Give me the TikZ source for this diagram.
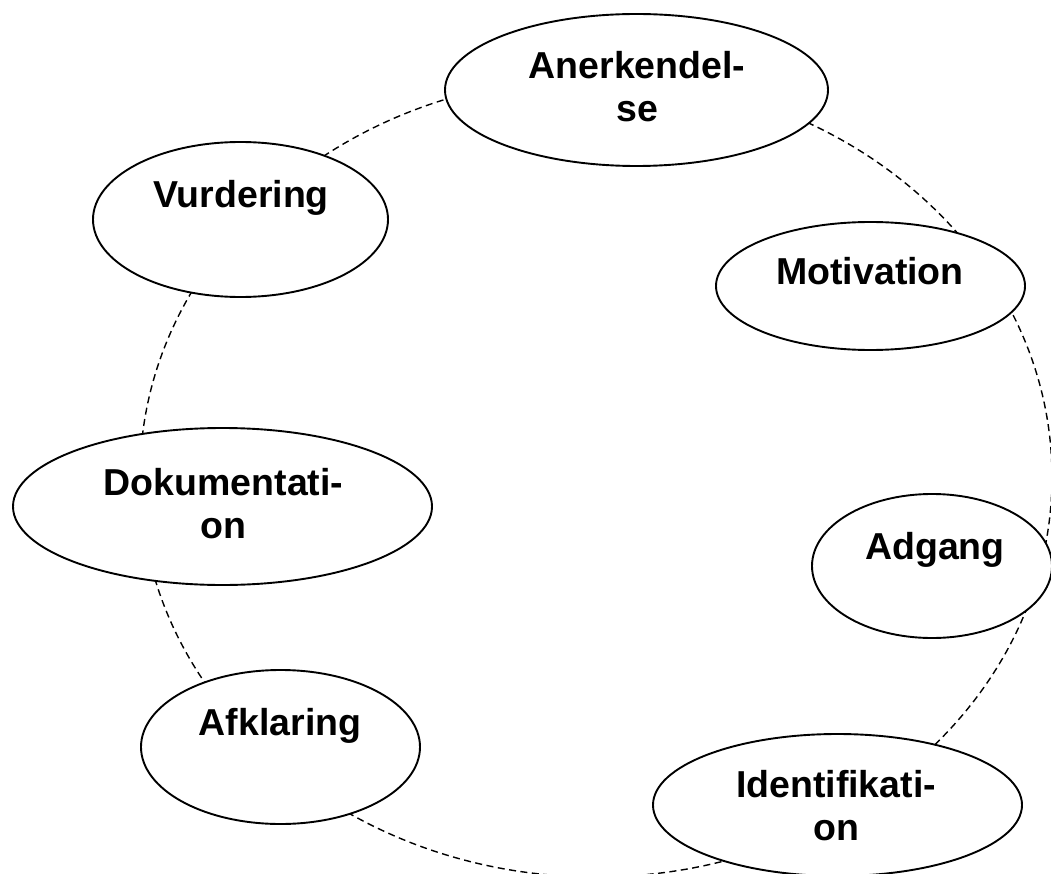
\documentclass[tikz,border=0pt]{standalone}
\usepackage{fontspec}
\setmainfont{Liberation Sans}
\usetikzlibrary{shapes.geometric}
\begin{document}
\begin{tikzpicture}[x=1pt,y=-1pt,
  bubble/.style={draw=black, fill=white, ellipse, line width=1.9pt, inner sep=0pt},
  lbl/.style={font=\bfseries\fontsize{37.5}{43}\selectfont, align=center, inner sep=0pt, anchor=base},
  ring/.style={draw=black, line width=1.4pt, dash pattern=on 7pt off 4.5pt}]
\useasboundingbox (0,0) rectangle (1051,874);
\clip (0,0) rectangle (1051,874);
\fill[white] (0,0) rectangle (1051,874);
\coordinate (c) at (596,477);
\draw[ring] (c) ellipse [x radius=456pt, y radius=400pt];
\node[bubble, minimum width=383pt, minimum height=152pt] (ank) at (636.5,90) {};
\node[bubble, minimum width=295pt, minimum height=155pt] (vur) at (240.5,219.5) {};
\node[bubble, minimum width=309pt, minimum height=128pt] (mot) at (870.5,286) {};
\node[bubble, minimum width=419pt, minimum height=157pt] (dok) at (222.5,506.5) {};
\node[bubble, minimum width=240pt, minimum height=144pt] (adg) at (932,566) {};
\node[bubble, minimum width=279pt, minimum height=154pt] (afk) at (280.5,747) {};
\node[bubble, minimum width=369pt, minimum height=142pt] (ide) at (837.5,805) {};
\node[lbl] (tank) at (637,122) {Anerkendel-\\se};
\node[lbl] (tvur) at (241,208) {Vurdering};
\node[lbl] (tmot) at (870,285) {Motivation};
\node[lbl] (tdok) at (223.5,538) {Dokumentati-\\on};
\node[lbl] (tadg) at (935,559) {Adgang};
\node[lbl] (tafk) at (280,735) {Afklaring};
\node[lbl] (tide) at (836,840) {Identifikati-\\on};
\end{tikzpicture}
\end{document}
